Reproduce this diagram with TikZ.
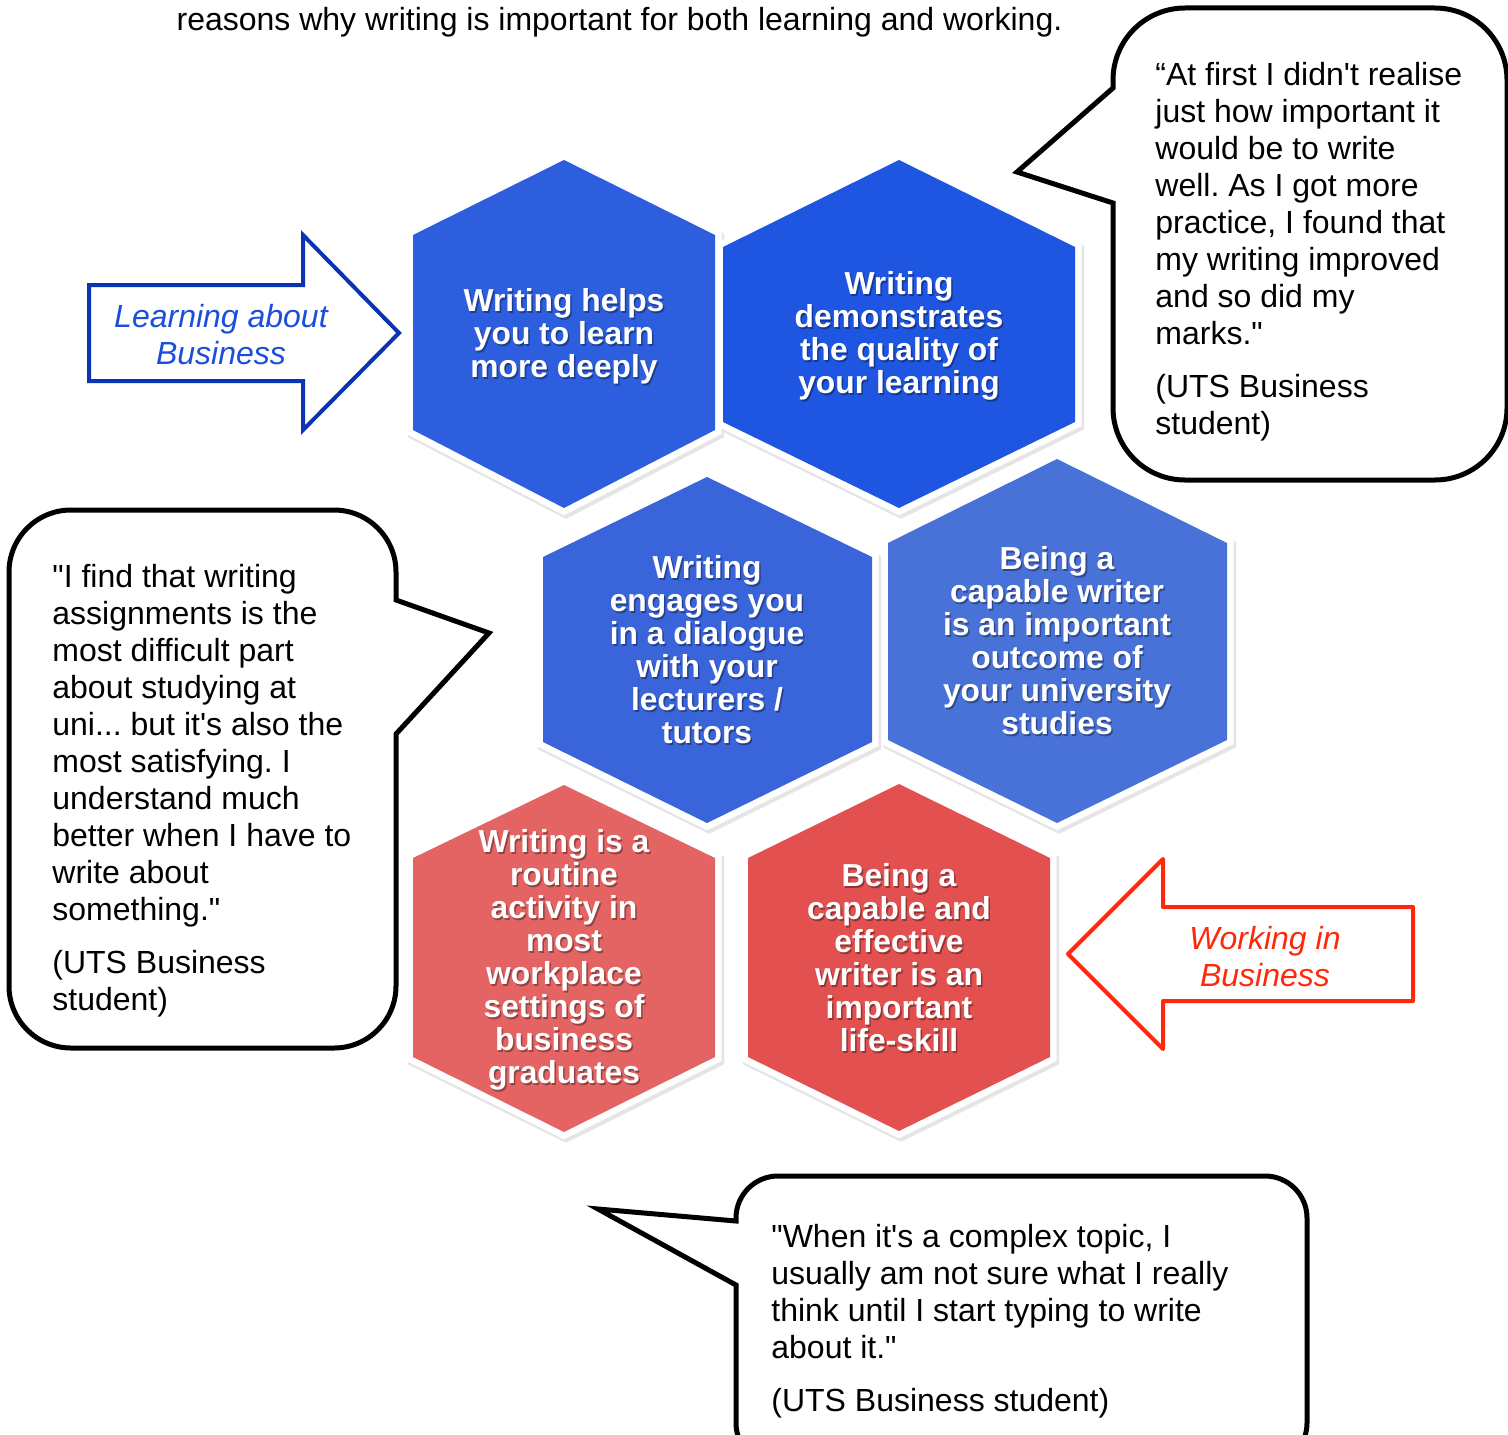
\documentclass[tikz,border=0pt]{standalone}
\usepackage{fontspec}
\setmainfont{Liberation Sans}[Ligatures=TeXOff]
\frenchspacing
\definecolor{hA}{RGB}{44,94,222}
\definecolor{hB}{RGB}{30,85,225}
\definecolor{hC}{RGB}{58,100,218}
\definecolor{hD}{RGB}{72,114,216}
\definecolor{hE}{RGB}{228,100,100}
\definecolor{hF}{RGB}{227,80,80}
\definecolor{arrowblue}{RGB}{12,52,178}
\definecolor{textblue}{RGB}{28,78,222}
\definecolor{arrowred}{RGB}{255,40,10}
\tikzset{
  hexshadow/.style={draw=black!10, fill=black!10, line width=7pt, line join=miter},
  hexborder/.style={draw=white, fill=white, line width=6.5pt, line join=miter},
  hextext/.style={text=white, align=center, inner sep=0pt,
    font=\bfseries\fontsize{15.9}{16.5}\selectfont},
  hexshade/.style={text=black, opacity=0.35, align=center, inner sep=0pt,
    font=\bfseries\fontsize{15.9}{16.5}\selectfont},
  quotebox/.style={draw=black, fill=white, line width=2.5pt, line join=miter},
  quotetext/.style={align=left, inner sep=0pt, anchor=north west,
    font=\fontsize{16}{18.5}\selectfont},
  arrowtext/.style={align=center, inner sep=0pt,
    font=\itshape\fontsize{16}{18.5}\selectfont}
}
\def\hexlist{413/564/715/160/235/430/508/hA,
  723/899/1075/160/247/422/508/hB,
  543/707/872/477/557/742/823/hC,
  888/1057/1227/459/543/740/823/hD,
  413/564/715/785/858/1057/1132/hE,
  748/899/1050/784/858/1057/1131/hF}
\begin{document}
\begin{tikzpicture}[x=0.5pt,y=-0.5pt]
\useasboundingbox (0,0) rectangle (1508,1434);
\clip (0,0) rectangle (1508,1434);
\fill[white] (0,0) rectangle (1508,1434);

% title line
\node[inner sep=0pt, anchor=base, font=\fontsize{16}{18.5}\selectfont] (title) at (619.5,31)
  {reasons why writing is important for both learning and working.};

% hexagons: shadow, white border, fill
\foreach \xl/\xc/\xr/\yt/\yu/\yd/\yb/\col in \hexlist {
  \path[hexshadow] ([shift={(2,3)}]\xc,\yt) -- ([shift={(2,3)}]\xr,\yu) -- ([shift={(2,3)}]\xr,\yd)
    -- ([shift={(2,3)}]\xc,\yb) -- ([shift={(2,3)}]\xl,\yd) -- ([shift={(2,3)}]\xl,\yu) -- cycle;
}
\foreach \xl/\xc/\xr/\yt/\yu/\yd/\yb/\col in \hexlist {
  \path[hexborder] (\xc,\yt) -- (\xr,\yu) -- (\xr,\yd) -- (\xc,\yb) -- (\xl,\yd) -- (\xl,\yu) -- cycle;
}
\foreach \xl/\xc/\xr/\yt/\yu/\yd/\yb/\col in \hexlist {
  \fill[\col] (\xc,\yt) -- (\xr,\yu) -- (\xr,\yd) -- (\xc,\yb) -- (\xl,\yd) -- (\xl,\yu) -- cycle;
}

% hexagon texts (with soft shadow copies)
\node[hexshade] (h1s) at (565.5,338) {Writing helps\\you to learn\\more deeply};
\node[hextext] (h1) at (564,336) {Writing helps\\you to learn\\more deeply};
\node[hexshade] (h2s) at (900.5,338) {Writing\\demonstrates\\the quality of\\your learning};
\node[hextext] (h2) at (899,336) {Writing\\demonstrates\\the quality of\\your learning};
\node[hexshade] (h3s) at (708.5,652) {Writing\\engages you\\in a dialogue\\with your\\lecturers /\\tutors};
\node[hextext] (h3) at (707,650) {Writing\\engages you\\in a dialogue\\with your\\lecturers /\\tutors};
\node[hexshade] (h4s) at (1058.5,643) {Being a\\capable writer\\is an important\\outcome of\\your university\\studies};
\node[hextext] (h4) at (1057,641) {Being a\\capable writer\\is an important\\outcome of\\your university\\studies};
\node[hexshade] (h5s) at (565.5,962) {Writing is a\\routine\\activity in\\most\\workplace\\settings of\\business\\graduates};
\node[hextext] (h5) at (564,960) {Writing is a\\routine\\activity in\\most\\workplace\\settings of\\business\\graduates};
\node[hexshade] (h6s) at (900.5,960) {Being a\\capable and\\effective\\writer is an\\important\\life-skill};
\node[hextext] (h6) at (899,958) {Being a\\capable and\\effective\\writer is an\\important\\life-skill};

% blue arrow
\draw[arrowblue, line width=2pt, line join=miter, fill=white]
  (89,285) -- (303,285) -- (303,235) -- (399,333) -- (303,430) -- (303,381) -- (89,381) -- cycle;
\node[arrowtext, text=textblue] (learn) at (221,335) {Learning about\\Business};

% red arrow
\draw[arrowred, line width=2pt, line join=round, fill=white]
  (1068,954) -- (1163,859) -- (1163,907) -- (1413,907) -- (1413,1001) -- (1163,1001) -- (1163,1049) -- cycle;
\node[arrowtext, text=arrowred] (work) at (1265,957) {Working in\\Business};

% callout 1 (top right)
\draw[quotebox] (1113,203) -- (1113,408) arc[start angle=180,end angle=90,radius=72]
  -- (1435,480) arc[start angle=90,end angle=0,radius=72]
  -- (1507,80) arc[start angle=0,end angle=-90,radius=72]
  -- (1185,8) arc[start angle=-90,end angle=-180,radius=72]
  -- (1113,88) -- (1017,172) -- cycle;
\node[quotetext] (q1) at (1155,62)
  {“At first I didn't realise\\just how important it\\would be to write\\well. As I got more\\practice, I found that\\my writing improved\\and so did my\\marks."\\[8pt](UTS Business\\student)};

% callout 2 (left)
\draw[quotebox] (396,734) -- (396,986) arc[start angle=0,end angle=90,radius=62]
  -- (71,1048) arc[start angle=90,end angle=180,radius=62]
  -- (9,572) arc[start angle=180,end angle=270,radius=62]
  -- (334,510) arc[start angle=270,end angle=360,radius=62]
  -- (396,600) -- (489,633) -- cycle;
\node[quotetext] (q2) at (52,564)
  {"I find that writing\\assignments is the\\most difficult part\\about studying at\\uni... but it's also the\\most satisfying. I\\understand much\\better when I have to\\write about\\something."\\[8pt](UTS Business\\student)};

% callout 3 (bottom)
\draw[quotebox] (736,1285) -- (736,1423) arc[start angle=180,end angle=90,radius=42]
  -- (1265,1465) arc[start angle=90,end angle=0,radius=42]
  -- (1307,1218) arc[start angle=0,end angle=-90,radius=42]
  -- (778,1176) arc[start angle=-90,end angle=-180,radius=42]
  -- (736,1221) -- (598,1209) -- cycle;
\node[quotetext] (q3) at (771,1224)
  {"When it's a complex topic, I\\usually am not sure what I really\\think until I start typing to write\\about it."\\[8pt](UTS Business student)};
\end{tikzpicture}
\end{document}
